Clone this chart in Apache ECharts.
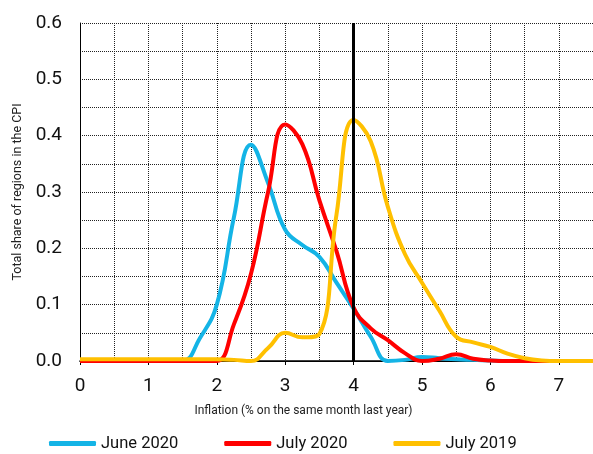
<!DOCTYPE html>
<html>
<head>
<meta charset="utf-8">
<script src="https://cdn.jsdelivr.net/npm/echarts@6/dist/echarts.min.js"></script>
<style>
  html, body { margin: 0; padding: 0; background: #fff; }
  #main { width: 593px; height: 454px; }
</style>
</head>
<body>
<div id="main"></div>
<script>
// inflation buckets (x), step 0.25
var inflation = [0, 0.25, 0.5, 0.75, 1, 1.25, 1.5, 1.75, 2, 2.25, 2.5, 2.75, 3, 3.25, 3.5, 3.75,
  4, 4.25, 4.5, 4.75, 5, 5.25, 5.5, 5.75, 6, 6.25, 6.5, 6.75, 7, 7.25, 7.5];

var june2020 = [0, 0, 0, 0, 0, 0, 0, 0.04, 0.1, 0.255, 0.384, 0.316, 0.233, 0.206, 0.185, 0.139,
  0.093, 0.043, 0, 0.002, 0.007, 0.005, 0.003, 0.002, 0.001, 0, 0, 0, 0, 0, 0];

var july2020 = [0, 0, 0, 0, 0, 0, 0, 0, 0, 0.065, 0.155, 0.3, 0.42, 0.385, 0.285, 0.195,
  0.095, 0.058, 0.037, 0.014, 0, 0.004, 0.012, 0.004, 0.001, 0, 0, 0, 0, 0, 0];

var july2019 = [0.003, 0.003, 0.003, 0.003, 0.003, 0.003, 0.003, 0.003, 0.003, 0.002, 0, 0.023, 0.05, 0.042, 0.048, 0.26,
  0.428, 0.39, 0.274, 0.19, 0.139, 0.09, 0.043, 0.033, 0.025, 0.013, 0.005, 0.001, 0, 0, 0];

var seriesNames = ['June 2020', 'July 2020', 'July 2019'];
var seriesColors = ['#14B4E6', '#FF0000', '#FFC000'];
var markAt = 4;

var font = "Roboto, 'Noto Sans', sans-serif";

function pairs(ys) {
  return inflation.map(function (x, i) { return [x, ys[i]]; });
}

var chart = echarts.init(document.getElementById('main'));

var dotted = { color: '#222', width: 1, type: [1, 1] };

var lineSeries = [june2020, july2020, july2019].map(function (ys, i) {
  return {
    name: seriesNames[i],
    type: 'line',
    data: pairs(ys),
    smooth: 0.45,
    showSymbol: false,
    symbol: 'none',
    lineStyle: { color: seriesColors[i], width: 4 },
    itemStyle: { color: seriesColors[i] },
    z: 3 + i
  };
});

// vertical reference line at 4%
lineSeries[2].markLine = {
  silent: true,
  symbol: ['none', 'none'],
  label: { show: false },
  lineStyle: { color: '#000', width: 3, type: 'solid' },
  data: [{ xAxis: markAt }],
  z: 10
};

chart.setOption({
  animation: false,
  textStyle: { fontFamily: font },
  grid: { left: 80, right: 0, top: 23, bottom: 93 },
  legend: {
    top: 435,
    left: 49,
    padding: 0,
    itemWidth: 47,
    itemHeight: 5,
    itemGap: 46,
    icon: 'roundRect',
    textStyle: { fontSize: 16.5, color: '#111', fontFamily: font },
    data: seriesNames
  },
  xAxis: [{
    type: 'value',
    min: 0,
    max: 7.5,
    interval: 1,
    name: 'Inflation (% on the same month last year)',
    nameLocation: 'middle',
    nameGap: 44,
    nameTextStyle: { fontSize: 12, color: '#222', padding: [0, 66, 0, 0] },
    axisLine: { show: true, onZero: false, lineStyle: { color: '#000', width: 1 } },
    axisTick: { show: true, length: 4, lineStyle: { color: '#000' } },
    axisLabel: { fontSize: 19, color: '#111', margin: 16, showMaxLabel: false },
    splitLine: { show: true, lineStyle: dotted },
    minorTick: { show: false, splitNumber: 2 },
    minorSplitLine: { show: true, lineStyle: dotted }
  }, {
    type: 'value',
    position: 'top',
    min: 0,
    max: 7.5,
    axisLine: { show: true, lineStyle: { color: '#000', width: 1.5 } },
    axisTick: { show: false },
    axisLabel: { show: false },
    splitLine: { show: false }
  }],
  yAxis: {
    type: 'value',
    min: 0,
    max: 0.6,
    interval: 0.1,
    name: 'Total share of regions in the CPI',
    nameLocation: 'middle',
    nameGap: 55,
    nameTextStyle: { fontSize: 12.5, color: '#222' },
    axisLine: { show: true, lineStyle: { color: '#000', width: 1 } },
    axisTick: { show: false },
    axisLabel: {
      fontSize: 19, color: '#111', margin: 18,
      formatter: function (v) { return v.toFixed(1); }
    },
    splitLine: { show: true, lineStyle: dotted },
    minorTick: { show: false, splitNumber: 2 },
    minorSplitLine: { show: true, lineStyle: dotted }
  },
  series: lineSeries
});
</script>
</body>
</html>
